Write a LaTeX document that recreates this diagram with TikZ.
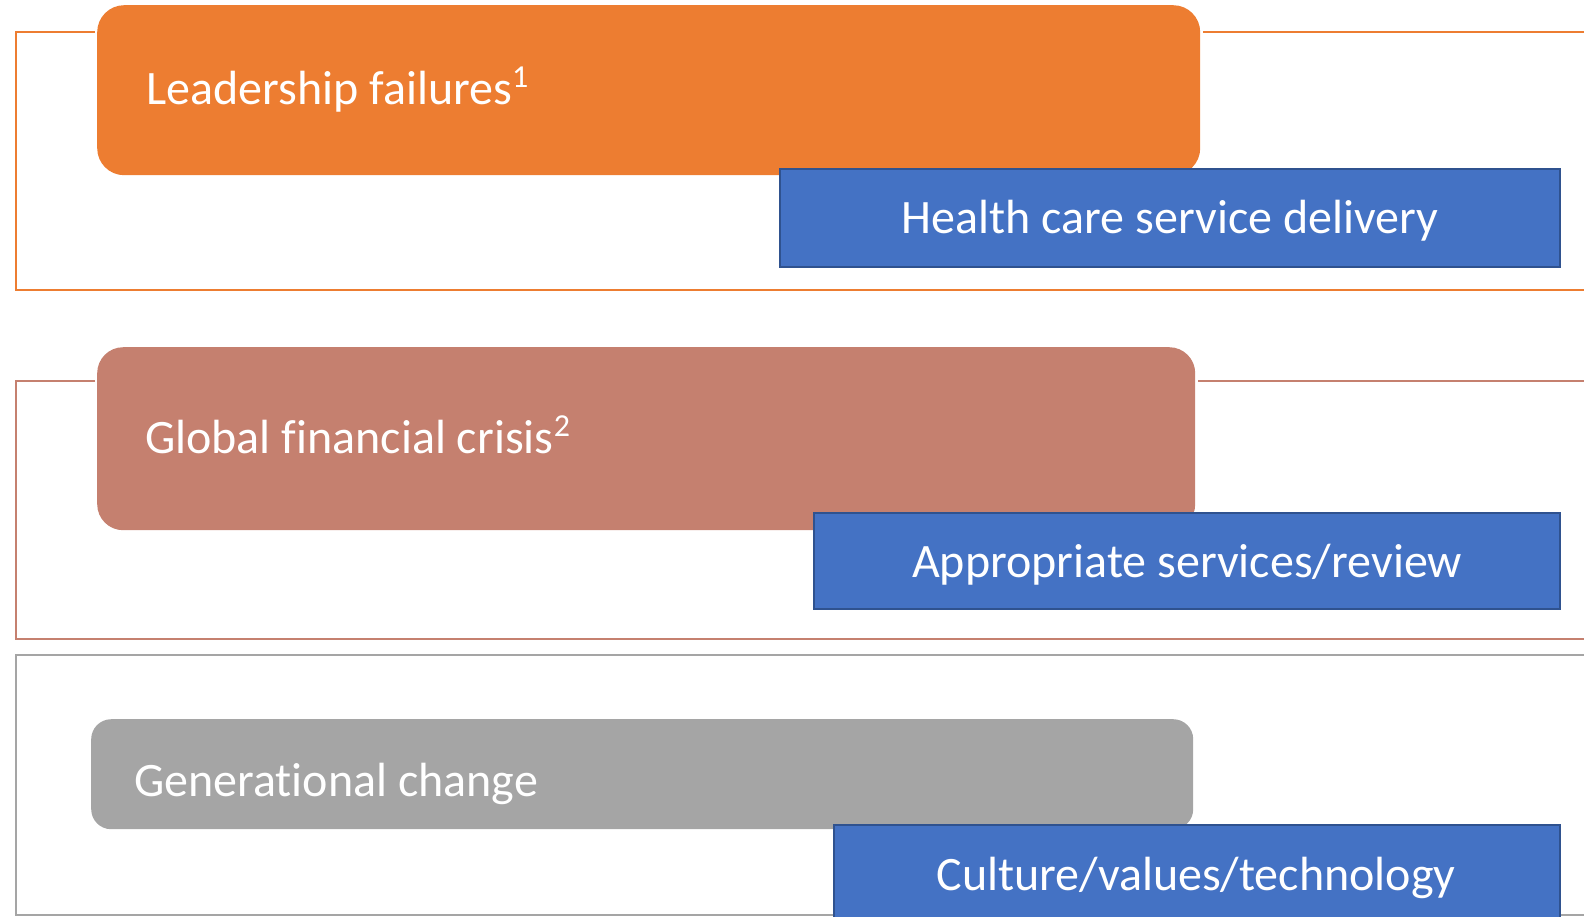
\documentclass[tikz,border=0pt]{standalone}
\usepackage{fontspec}
\setmainfont{Carlito}[Ligatures=NoCommon]
\definecolor{orng}{HTML}{ED7D31}
\definecolor{rose}{HTML}{C5806F}
\definecolor{gry}{HTML}{A5A5A5}
\definecolor{blu}{HTML}{4472C4}
\definecolor{bluedge}{HTML}{2F528F}
\newcommand{\supnum}[1]{\raisebox{17pt}{\fontsize{32}{32}\selectfont #1}}
\begin{document}
\begin{tikzpicture}[x=1pt,y=-1pt,
  roundbox/.style={rectangle, anchor=north west, inner sep=0pt},
  bluebox/.style={rectangle, fill=blu, draw=bluedge, line width=2pt, anchor=north west, inner sep=0pt},
  lbl/.style={anchor=base west, text=white, inner sep=0pt, font=\fontsize{48}{56}\selectfont},
  bluelbl/.style={anchor=base, text=white, inner sep=0pt, font=\fontsize{48}{56}\selectfont},
  frame/.style={line width=2pt}]
\useasboundingbox (0,0) rectangle (1584,916);
\clip (0,0) rectangle (1584,916);
% frames
\draw[frame, orng] (95,31.5) -- (16,31.5) -- (16,290) -- (1600,290);
\draw[frame, orng] (1203,31.5) -- (1600,31.5);
\draw[frame, rose] (95,380.5) -- (16,380.5) -- (16,639) -- (1600,639);
\draw[frame, rose] (1198,380.5) -- (1600,380.5);
\draw[frame, gry] (1600,655) -- (16,655) -- (16,915) -- (1600,915);
% row 1
\node[roundbox, fill=orng, rounded corners=27pt, minimum width=1103pt, minimum height=170pt] (lead) at (97,5) {};
\node[lbl] (leadt) at (146,104) {Leadership failures\supnum{1}};
\node[bluebox, minimum width=780pt, minimum height=98pt] (hc) at (779,168) {};
\node[bluelbl] (hct) at ([yshift=-15pt]hc.center) {Health care service delivery};
% row 2
\node[roundbox, fill=rose, rounded corners=26pt, minimum width=1098pt, minimum height=183pt] (gfc) at (97,347) {};
\node[lbl] (gfct) at (145,453) {Global financial crisis\supnum{2}};
\node[bluebox, minimum width=746pt, minimum height=96pt] (as) at (813,512) {};
\node[bluelbl] (ast) at ([yshift=-16pt]as.center) {Appropriate services/review};
% row 3
\node[roundbox, fill=gry, rounded corners=20pt, minimum width=1102pt, minimum height=110pt] (gen) at (91,719) {};
\node[lbl] (gent) at (134,796) {Generational change};
\node[bluebox, minimum width=726pt, minimum height=120pt] (cvt) at (833,824) {};
\coordinate (cvtc) at (1196,890);
\node[bluelbl] (cvtt) at (cvtc) {Culture/values/technology};
\end{tikzpicture}
\end{document}
